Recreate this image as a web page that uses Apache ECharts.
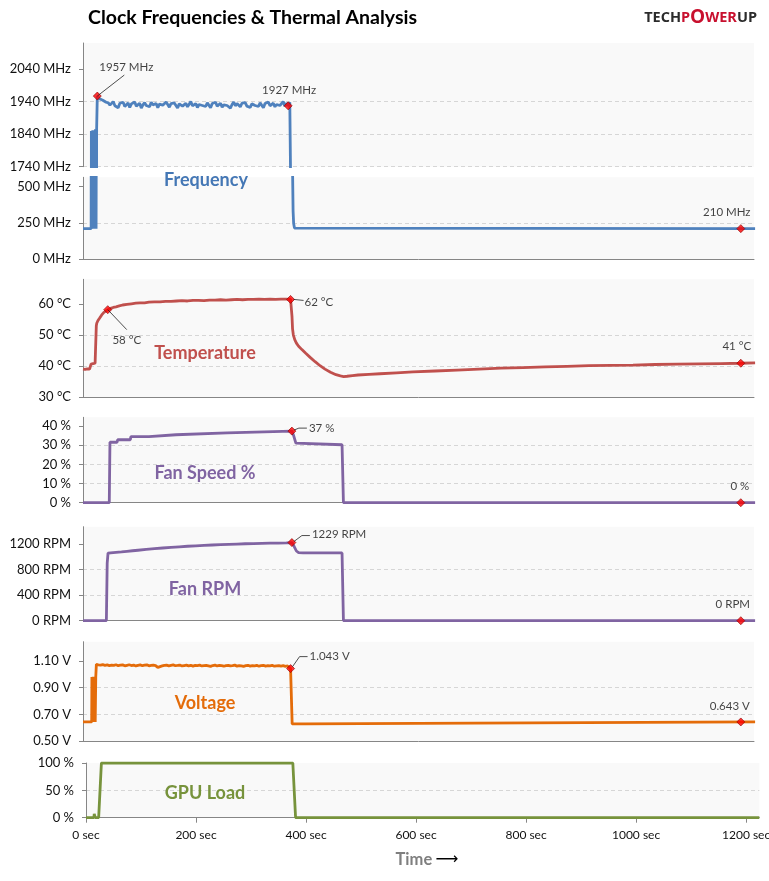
<!DOCTYPE html>
<html><head><meta charset="utf-8">
<script src="https://cdn.jsdelivr.net/npm/echarts@6/dist/echarts.min.js"></script>
<style>html,body{margin:0;padding:0;background:#fff}#c{width:769px;height:881px}</style>
</head><body><div id="c"></div>
<script>
// ---------------- DATA ----------------
const chartTitle = 'Clock Frequencies & Thermal Analysis';
const panelNames = ['Frequency', 'Temperature', 'Fan Speed %', 'Fan RPM', 'Voltage', 'GPU Load'];
const xTicks = [0, 200, 400, 600, 800, 1000, 1200];
const freqTicksUpper = [1740, 1840, 1940, 2040];
const freqTicksLower = [0, 250, 500];
const tempTicks = [30, 40, 50, 60];
const fanTicks = [0, 10, 20, 30, 40];
const rpmTicks = [0, 400, 800, 1200];
const voltTicks = [0.5, 0.7, 0.9, 1.1];
const loadTicks = [0, 50, 100];

const freqData = [[0,210],[14.8,210],[15.2,1850],[16.2,1850],[16.6,210],[17.4,210],[17.8,1852],[18.6,1852],[19,210],[19.8,210],[20.2,1848],[21,1848],[21.4,210],[22.2,210],[22.6,1855],[23.4,1855],[23.8,210],[24.4,210],[24.8,1856],[25.6,1856],
[26,1957],[28,1953],[30,1949],[33,1946],[36,1944],[39,1941],[42,1938],
[46,1936],[49,1929],[52,1934],[55,1940],[58,1927],[61,1932],[64,1921],[67,1935],[70,1930],[73,1938],[76,1925],[79,1931],[82,1936],[85,1922],[88,1933],[91,1929],[94,1939],[97,1926],[100,1931],[103,1935],[106,1920],[109,1930],[112,1937],[115,1928],[118,1933],[121,1924],[124,1938],[127,1930],[130,1927],[133,1934],[136,1921],[139,1932],[142,1936],[145,1929],[148,1925],[151,1939],[154,1931],[157,1923],[160,1934],[163,1928],[166,1936],[169,1930],[172,1920],[175,1933],[178,1937],[181,1926],[184,1931],[187,1935],[190,1924],[193,1932],[196,1940],[199,1927],[202,1930],[205,1934],[208,1922],[211,1931],[214,1937],[217,1928],[220,1933],[223,1925],[226,1936],[229,1930],[232,1921],[235,1934],[238,1929],[241,1938],[244,1926],[247,1932],[250,1935],[253,1923],[256,1930],[259,1936],[262,1928],[265,1933],[268,1920],[271,1931],[274,1939],[277,1927],[280,1934],[283,1930],[286,1924],[289,1935],[292,1929],[295,1937],[298,1926],[301,1932],[304,1922],[307,1933],[310,1938],[313,1928],[316,1931],[319,1925],[322,1936],[325,1930],[328,1921],[331,1934],[334,1929],[337,1939],[340,1927],[343,1932],[346,1935],[349,1924],[352,1931],[355,1937],[358,1928],[361,1933],[364,1940],[367,1926],[370,1935],[373,1927],[376,1938],[379,1940],
[380,1300],[381,620],[382,330],[383,245],[384.5,214],[386,210],[1222,210]];

const tempData = [[0,39.0],[4,38.9],[8,39.1],[12,39.0],[14,39.1],[14.6,40.6],[18,40.7],[22,40.9],[23.5,41.2],[24.2,53.0],[25,53.8],[27,54.6],[30,55.4],[34,56.5],[38,57.3],[42,57.8],[45,58.2],[50,58.6],[55,58.9],[60,59.1],[66,59.4],[72,59.7],[80,59.9],[88,60.1],[96,60.3],[104,60.4],[112,60.4],[120,60.6],[130,60.7],[140,60.7],[150,60.9],[160,60.9],[170,61.0],[180,61.1],[190,61.0],[200,61.2],[210,61.2],[220,61.1],[230,61.3],[240,61.3],[250,61.4],[260,61.3],[270,61.4],[280,61.5],[290,61.4],[300,61.5],[310,61.5],[320,61.6],[330,61.5],[340,61.6],[350,61.5],[360,61.6],[370,61.6],[377.4,61.5],
[379,61.2],[380,56],[381,52],[382.5,50],[385,48.5],[388,47.4],[392,46.4],[398,45.3],[405,44.1],[413,42.8],[422,41.4],[431,40.1],[440,39.0],[450,38.0],[460,37.2],[468,36.8],[474,36.6],[480,36.7],[490,36.9],[500,37.1],[520,37.3],[540,37.5],[570,37.8],[600,38.1],[640,38.4],[680,38.7],[720,39.0],[760,39.3],[800,39.5],[840,39.7],[880,39.9],[920,40.1],[960,40.2],[1000,40.3],[1040,40.5],[1080,40.6],[1120,40.7],[1160,40.8],[1196,40.9],[1222,41.0]];

const fanPctData = [[0,0],[47.8,0],[49,31.5],[62,31.5],[63,32.8],[86,32.8],[87,34.4],[120,34.4],[121,35.4],[169,35.4],[170,36.4],[262,36.4],[263,37.3],[379.8,37.3],[383,35],[387,31],[390,30.2],[471,30.2],[473.5,0],[1222,0]];

const fanRpmData = [[0,0],[42.5,0],[44,900],[45.5,1055],[50,1060],[60,1068],[70,1076],[80,1085],[90,1094],[100,1102],[115,1114],[130,1126],[145,1137],[160,1147],[175,1156],[190,1164],[205,1171],[220,1178],[235,1184],[250,1190],[265,1195],[280,1199],[295,1203],[310,1206],[325,1209],[340,1212],[355,1214],[370,1216],[379.8,1222],[384,1160],[388,1090],[392,1064],[400,1061],[471,1060],[473.5,0],[1222,0]];

const voltData = [[0,0.643],[15.8,0.643],[16.2,0.98],[17,0.98],[17.4,0.643],[18.2,0.643],[18.6,0.982],[19.4,0.982],[19.8,0.643],[20.6,0.643],[21,0.978],[21.8,0.978],[22.2,0.643],[22.8,0.643],[23.2,0.98],[23.8,0.98],[24.3,1.075],
[28,1.072],[32,1.069],[36,1.073],[40,1.068],[44,1.071],[48,1.066],[52,1.070],[56,1.067],[60,1.072],[64,1.065],[68,1.069],[72,1.071],[76,1.064],[80,1.068],[84,1.072],[88,1.066],[92,1.070],[96,1.063],[100,1.068],[104,1.071],[108,1.065],[112,1.069],[116,1.072],[120,1.064],[124,1.067],[128,1.070],[132,1.066],[136,1.052],[140,1.058],[144,1.063],[148,1.067],[152,1.069],[156,1.064],[160,1.068],[164,1.071],[168,1.065],[172,1.067],[176,1.070],[180,1.063],[184,1.066],[188,1.069],[192,1.064],[196,1.068],[200,1.062],[204,1.067],[208,1.065],[212,1.069],[216,1.063],[220,1.066],[224,1.068],[228,1.064],[232,1.060],[236,1.066],[240,1.069],[244,1.063],[248,1.067],[252,1.065],[256,1.061],[260,1.066],[264,1.068],[268,1.063],[272,1.065],[276,1.069],[280,1.062],[284,1.066],[288,1.064],[292,1.060],[296,1.065],[300,1.068],[304,1.062],[308,1.066],[312,1.063],[316,1.067],[320,1.061],[324,1.065],[328,1.068],[332,1.062],[336,1.065],[340,1.063],[344,1.067],[348,1.061],[352,1.064],[356,1.066],[360,1.062],[364,1.065],[368,1.060],[372,1.063],[375,1.058],[377.4,1.043],[379.5,1.05],
[380.3,0.628],[404.5,0.628],[405,0.643],[1222,0.643]];

const loadData = [[0,0],[14.3,0],[15,7],[16,5],[16.8,0],[23,0],[28,100],[376,100],[381,0],[389,0],[390,2.5],[391.5,0],[686,0],[687,1.5],[688,0],[745,0],[746,2],[747,0],[865,0],[866,1.5],[867,0],[923,0],[924,1.5],[925,0],[1224,0]];

// annotated points: [time, value, label]
const freqMarks = [[26,1957,'1957 MHz'],[373,1927,'1927 MHz'],[1196,210,'210 MHz']];
const tempMarks = [[45,58.2,'58 °C'],[377.4,61.5,'62 °C'],[1196,40.9,'41 °C']];
const fanMarks = [[379.8,37.3,'37 %'],[1196,0,'0 %']];
const rpmMarks = [[379.8,1222,'1229 RPM'],[1196,0,'0 RPM']];
const voltMarks = [[377.4,1.043,'1.043 V'],[1196,0.643,'0.643 V']];

// ---------------- LAYOUT / STYLE ----------------
const FONT = 'Lato';
const C = {freq:'#4f81bd', temp:'#c0504d', fan:'#8064a2', volt:'#e46c0a', load:'#77933c'};
const grids = [
  {left:83, right:15, top:43, height:123.7},
  {left:83, right:15, top:177.3, height:81.7},
  {left:83, right:15, top:279.3, height:117.7},
  {left:83, right:15, top:417.3, height:85.4},
  {left:83, right:15, top:526.7, height:94},
  {left:83, right:15, top:641.7, height:99.3},
  {left:86, right:9.7, top:763, height:54.7}
].map(g => Object.assign({show:true, backgroundColor:'#f9f9f9', borderWidth:0, containLabel:false, outerBoundsMode:'none'}, g));

function near(v, list){ return list.some(t => Math.abs(t - v) < 1e-6); }
function yAx(gi, min, max, step, ticks, fmt){
  return {
    gridIndex:gi, type:'value', min:min, max:max, interval:step,
    axisLine:{show:true, lineStyle:{color:'#868686', width:1}},
    axisTick:{show:true, length:4, customValues:ticks, lineStyle:{color:'#868686'}},
    axisLabel:{show:true, customValues:ticks, fontFamily:FONT, fontSize:13, color:'#111', margin:12,
      formatter: v => near(v, ticks) ? fmt(v) : ''},
    splitLine:{show:true, showMaxLine:false, lineStyle:{color:'#d6d6d6', type:[4,3], width:1}}
  };
}
function xAx(gi, max, showLine, labels){
  const ax = {
    gridIndex:gi, type:'value', min:0, max:max, interval:200,
    axisLine:{show:showLine, onZero:false, lineStyle:{color:'#868686'}},
    axisTick:{show:false}, axisLabel:{show:false}, splitLine:{show:false}
  };
  if (labels) {
    ax.axisTick = {show:true, length:5, customValues:xTicks, lineStyle:{color:'#868686'}};
    ax.axisLabel = {show:true, customValues:xTicks, fontFamily:FONT, fontSize:12, color:'#111', margin:11,
      formatter: v => near(v, xTicks) ? v + ' sec' : ''};
  }
  return ax;
}

const xAxes = [xAx(0,1220,false), xAx(1,1220,true), xAx(2,1220,true), xAx(3,1220,true), xAx(4,1220,true), xAx(5,1220,true), xAx(6,1224,true,true)];
const yAxes = [
  yAx(0, 1740, 2120, 50, freqTicksUpper, v => v + ' MHz'),
  yAx(1, 0, 565, 125, freqTicksLower, v => v + ' MHz'),
  yAx(2, 30, 68, 5, tempTicks, v => v + ' °C'),
  yAx(3, 0, 44.5, 5, fanTicks, v => v + ' %'),
  yAx(4, 0, 1470, 200, rpmTicks, v => v + ' RPM'),
  yAx(5, 0.5, 1.245, 0.1, voltTicks, v => v.toFixed(2) + ' V'),
  yAx(6, 0, 100, 25, loadTicks, v => v + ' %')
];

function lineS(gi, data, color){
  return {type:'line', xAxisIndex:gi, yAxisIndex:gi, data:data, showSymbol:false, symbol:'none',
    lineStyle:{color:color, width:2.8}, clip:true, z:2, animation:false, silent:true};
}

// label offsets relative to marker: [dx, dy, align]
const annot = [
  {gi:0, m:freqMarks[0], off:[29,-29,'center'], lead:[[0,0],[27,-21]]},
  {gi:0, m:freqMarks[1], off:[1,-16,'center']},
  {gi:1, m:freqMarks[2], off:[-14,-16,'center']},
  {gi:2, m:tempMarks[0], off:[19,31,'center'], lead:[[0,0],[19,20]]},
  {gi:2, m:tempMarks[1], off:[14,3,'left'], lead:[[3,0],[13,1]]},
  {gi:2, m:tempMarks[2], off:[-4,-17,'center']},
  {gi:3, m:fanMarks[0], off:[17,-3,'left'], lead:[[2,-1],[7,-3],[15,-3]]},
  {gi:3, m:fanMarks[1], off:[-1,-16,'center']},
  {gi:4, m:rpmMarks[0], off:[20,-8,'left'], lead:[[2,-1],[10,-7],[18,-7]]},
  {gi:4, m:rpmMarks[1], off:[-8,-16,'center']},
  {gi:5, m:voltMarks[0], off:[19,-12,'left'], lead:[[2,-2],[9,-12],[17,-12]]},
  {gi:5, m:voltMarks[1], off:[-11,-16,'center']}
];

const series = [
  lineS(0, freqData, C.freq), lineS(1, freqData, C.freq),
  lineS(2, tempData, C.temp), lineS(3, fanPctData, C.fan),
  lineS(4, fanRpmData, C.fan), lineS(5, voltData, C.volt), lineS(6, loadData, C.load)
];
annot.forEach(a => {
  series.push({type:'scatter', xAxisIndex:a.gi, yAxisIndex:a.gi, data:[[a.m[0], a.m[1]]],
    symbol:'diamond', symbolSize:8, z:10, animation:false, silent:true,
    itemStyle:{color:'#ff0000', borderColor:'#8b0000', borderWidth:0.8},
    label:{show:true, position:'inside', offset:[a.off[0], a.off[1]], align:a.off[2], verticalAlign:'middle',
      formatter:a.m[2], fontFamily:FONT, fontSize:11.5, color:'#111'}});
});

const panelLabelPos = [[206,180],[205,353],[205,473],[205,589],[205,703],[205,793]];
const panelColors = ['#4477b5', C.temp, C.fan, C.fan, C.volt, C.load];

const graphics = [
  {type:'text', left:88, top:8, style:{text:chartTitle, fontFamily:FONT, fontWeight:'bold', fontSize:19.5, fill:'#000'}},
  {type:'text', x:757, y:18, style:{text:'{d|TECH}{r|P}{o|O}{r|WER}{d|UP}', align:'right', verticalAlign:'middle',
    rich:{d:{fontFamily:'Open Sans', fontWeight:'bold', fontSize:14.5, fill:'#2b2b2b'},
          r:{fontFamily:'Open Sans', fontWeight:'bold', fontSize:14.5, fill:'#c8102e'},
          o:{fontFamily:'Open Sans', fontWeight:'bold', fontSize:19, fill:'#c8102e'}}}},
  {type:'text', x:427, y:860, style:{text:'{t|Time} {a|⟶}', align:'center', verticalAlign:'middle',
    rich:{t:{fontFamily:FONT, fontWeight:'bold', fontSize:16.5, fill:'#7f7f7f'}, a:{fontFamily:'DejaVu Sans', fontSize:16, fill:'#000'}}}}
];
panelNames.forEach((n, i) => graphics.push({type:'text', x:panelLabelPos[i][0], y:panelLabelPos[i][1], z:20,
  style:{text:n, fontFamily:FONT, fontWeight:'bold', fontSize:18, fill:panelColors[i], align:'center', verticalAlign:'middle'}}));

const chart = echarts.init(document.getElementById('c'), null, {renderer:'canvas'});
chart.setOption({animation:false, backgroundColor:'#fff', grid:grids, xAxis:xAxes, yAxis:yAxes, series:series});

annot.forEach(a => {
  if (!a.lead) return;
  const p = chart.convertToPixel({gridIndex:a.gi}, [a.m[0], a.m[1]]);
  graphics.push({type:'polyline', z:15, silent:true,
    shape:{points:a.lead.map(d => [p[0] + d[0], p[1] + d[1]])},
    style:{stroke:'#222', lineWidth:0.8, fill:null}});
});
chart.setOption({graphic:graphics});
</script>
</body></html>
